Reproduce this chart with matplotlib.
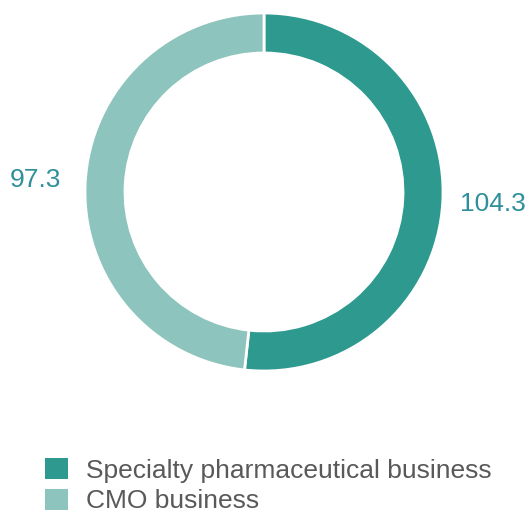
import matplotlib.pyplot as plt
from matplotlib.patches import Patch

# Дані
categories = ['Specialty pharmaceutical business', 'CMO business']
values = [104.3, 97.3]
colors = ['#2e998f', '#8dc4bd']

W, H = 531, 513
fig = plt.figure(figsize=(W / 100, H / 100), dpi=100)
ax = fig.add_axes([0, 0, 1, 1])

wedges, texts = ax.pie(values, labels=[f'{v:.1f}' for v in values], colors=colors,
                       startangle=90, counterclock=False,
                       center=(264, H - 192), radius=179, labeldistance=1.28,
                       wedgeprops=dict(width=40, edgecolor='white', linewidth=2),
                       textprops=dict(color='#2f8f9b', fontsize=19, family='Liberation Sans'),
                       frame=True)
ax.set_xlim(0, W)
ax.set_ylim(0, H)
ax.set_aspect('equal')
ax.axis('off')
for t in texts:
    t.set_ha('center')
    t.set_va('center')

handles = [Patch(facecolor=c, edgecolor='none') for c in colors]
fig.legend(handles, categories, loc='upper left', bbox_to_anchor=(45 / W, 1 - 458 / H),
           frameon=False, handlelength=0.87, handleheight=0.87,
           handletextpad=0.68, labelspacing=0.22, labelcolor='#595959',
           borderpad=0, borderaxespad=0,
           prop=dict(family='Liberation Sans', size=19))

fig.savefig('out.png', dpi=100)
